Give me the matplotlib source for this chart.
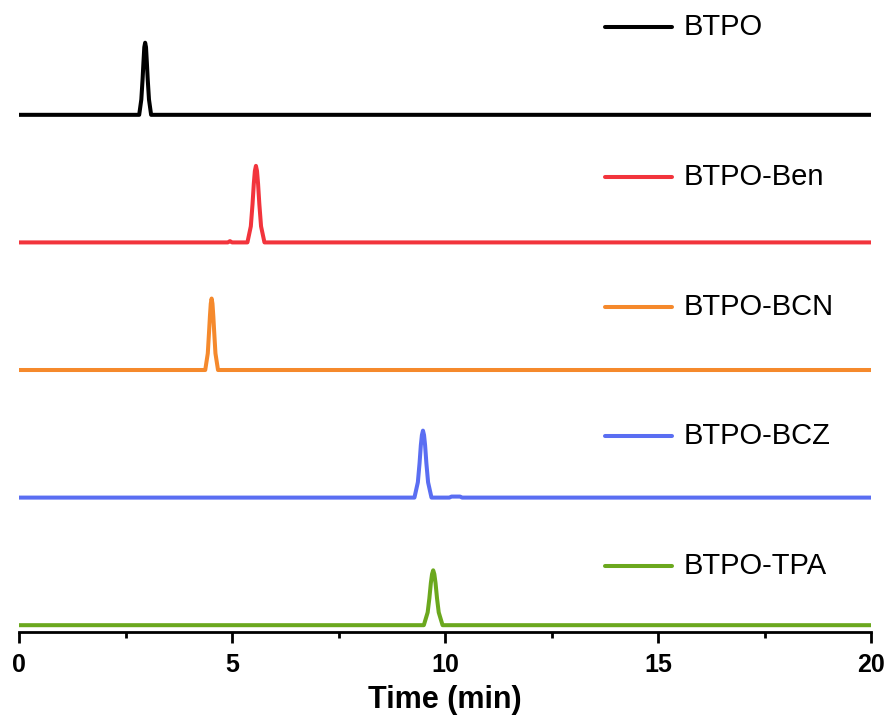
import matplotlib.pyplot as plt
from matplotlib.ticker import MultipleLocator

plt.rcParams['font.family'] = ['Liberation Sans', 'DejaVu Sans']

# retention traces (time in min, normalised intensity)
names = ["BTPO", "BTPO-Ben", "BTPO-BCN", "BTPO-BCZ", "BTPO-TPA"]
colors = ["#000000", "#F2343C", "#F5892C", "#5A6EF2", "#6BA81E"]

t_btpo = [0, 2.82, 2.87, 2.90, 2.92, 2.94, 2.96, 2.98, 3.00, 3.02, 3.05, 3.10, 20]
y_btpo = [0, 0, 0.12, 0.28, 0.41, 0.53, 0.565, 0.53, 0.41, 0.28, 0.12, 0, 0]

t_ben = [0, 4.90, 4.95, 5.00, 5.36, 5.44, 5.48, 5.51, 5.535, 5.56, 5.585, 5.61, 5.64, 5.68, 5.76, 20]
y_ben = [0, 0, 0.01, 0, 0, 0.126, 0.30, 0.46, 0.56, 0.60, 0.56, 0.46, 0.30, 0.126, 0, 0]

t_bcn = [0, 4.37, 4.43, 4.46, 4.48, 4.50, 4.52, 4.54, 4.56, 4.58, 4.61, 4.67, 20]
y_bcn = [0, 0, 0.13, 0.30, 0.42, 0.52, 0.56, 0.52, 0.42, 0.30, 0.13, 0, 0]

t_bcz = [0, 9.28, 9.36, 9.40, 9.43, 9.455, 9.48, 9.505, 9.53, 9.56, 9.60, 9.68, 10.10, 10.15, 10.35, 10.40, 20]
y_bcz = [0, 0, 0.12, 0.27, 0.41, 0.49, 0.525, 0.49, 0.41, 0.27, 0.12, 0, 0, 0.008, 0.008, 0, 0]

t_tpa = [0, 9.50, 9.59, 9.63, 9.665, 9.693, 9.72, 9.747, 9.775, 9.81, 9.85, 9.94, 20]
y_tpa = [0, 0, 0.10, 0.21, 0.33, 0.40, 0.43, 0.40, 0.33, 0.21, 0.10, 0, 0]

times = [t_btpo, t_ben, t_bcn, t_bcz, t_tpa]
signals = [y_btpo, y_ben, y_bcn, y_bcz, y_tpa]
offsets = [4, 3, 2, 1, 0]

# label layout (legend key x-range, text x, text y) in data units
key_x = [13.76, 15.33]
text_x = 15.6
label_y = [4.69, 3.51, 2.49, 1.48, 0.46]

fig = plt.figure(figsize=(8.89, 7.25), dpi=100)
ax = fig.add_axes([0.0214, 0.128, 0.9586, 0.872])

for t, s, off, c, name, ly in zip(times, signals, offsets, colors, names, label_y):
    ax.plot(t, [v + off for v in s], color=c, lw=2.9, solid_joinstyle='round')
    ax.plot(key_x, [ly, ly], color=c, lw=2.9, solid_capstyle='round')
    ax.text(text_x, ly, name, fontsize=21, va='center', ha='left')

ax.set_xlim(0, 20)
ax.set_ylim(-0.055, 4.9)

for side in ["left", "right", "top"]:
    ax.spines[side].set_visible(False)
ax.spines["bottom"].set_linewidth(2)
ax.set_yticks([])

ax.xaxis.set_major_locator(MultipleLocator(5))
ax.xaxis.set_minor_locator(MultipleLocator(2.5))
ax.tick_params(axis='x', which='major', length=8, width=2, pad=7, labelsize=18)
ax.tick_params(axis='x', which='minor', length=4, width=2)
for lbl in ax.get_xticklabels():
    lbl.set_fontweight('bold')

ax.set_xlabel("Time (min)", fontsize=22, fontweight='bold', labelpad=6)

fig.savefig("out.png", dpi=100)
